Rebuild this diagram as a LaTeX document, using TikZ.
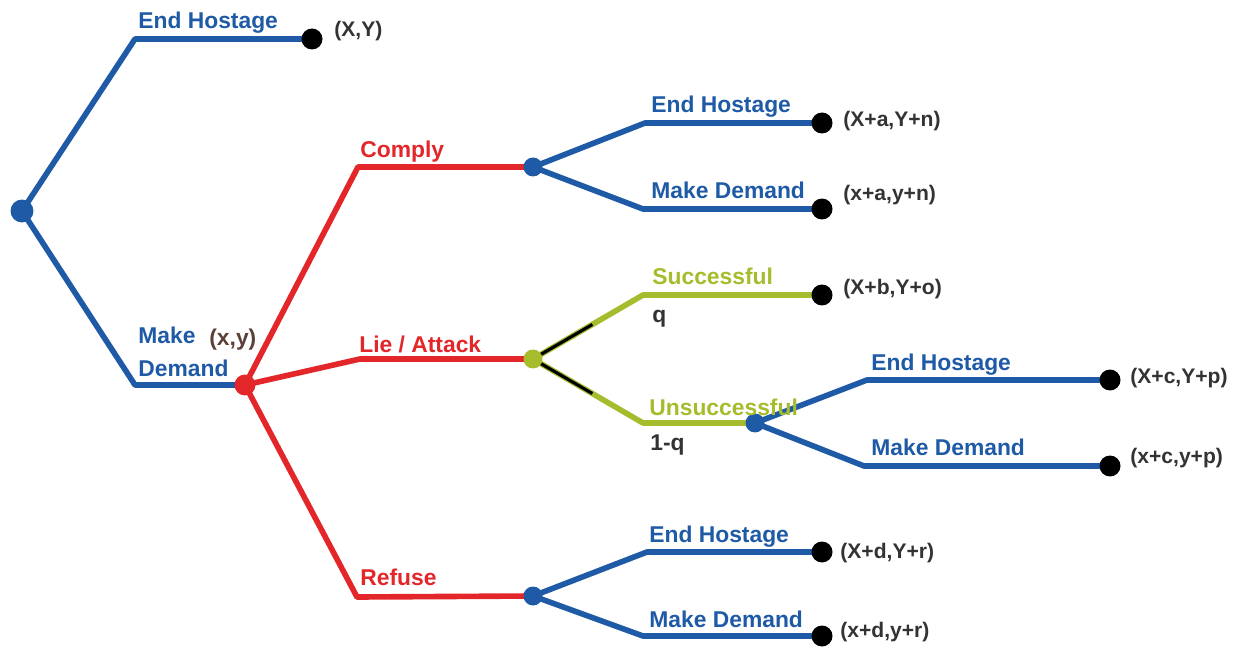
\documentclass[tikz,border=0pt]{standalone}
\usepackage{fontspec}
\setmainfont{Liberation Sans}
\usetikzlibrary{backgrounds,calc}
\definecolor{tblue}{HTML}{1E5AA5}
\definecolor{tred}{HTML}{E3262A}
\definecolor{tgreen}{HTML}{A6BC2C}
\definecolor{tgray}{HTML}{333333}
\definecolor{tbrown}{HTML}{5B4038}
\begin{document}
\begin{tikzpicture}[x=0.02cm,y=-0.02cm,
  br/.style={line width=3.2pt, line join=round},
  bl/.style={br, draw=tblue},
  rd/.style={br, draw=tred},
  gr/.style={br, draw=tgreen},
  blk/.style={line width=1.8pt, draw=black},
  dot/.style={circle, inner sep=0pt, minimum size=0.42cm},
  enddot/.style={dot, fill=black},
  lab/.style={anchor=base west, inner sep=0pt, font=\fontsize{13}{15}\selectfont\bfseries},
  pay/.style={lab, text=tgray, font=\fontsize{12}{14}\selectfont\bfseries},
]
\useasboundingbox (0,0) rectangle (1233,648);
% decision / chance nodes
\node[dot, fill=tblue, minimum size=0.46cm] (root) at (22,211) {};
\node[dot, fill=tred] (md) at (245,385) {};
\node[dot, fill=tblue, minimum size=0.38cm] (cn) at (533,167) {};
\node[dot, fill=tgreen, minimum size=0.38cm] (ch) at (533,359) {};
\node[dot, fill=tblue, minimum size=0.38cm] (rn) at (533,596) {};
\node[dot, fill=tblue, minimum size=0.38cm] (un) at (755,423) {};
% terminal nodes
\node[enddot] (e1) at (312,39) {};
\node[enddot] (e2) at (822,123) {};
\node[enddot] (e3) at (822,209) {};
\node[enddot] (e4) at (822,295) {};
\node[enddot] (e5) at (1110,380) {};
\node[enddot] (e6) at (1110,466) {};
\node[enddot] (e7) at (822,552) {};
\node[enddot] (e8) at (822,636) {};
% corners
\coordinate (c1) at (135,39);
\coordinate (c2) at (135,385);
\coordinate (c3) at (358,167);
\coordinate (c4) at (360,359);
\coordinate (c5) at (357,597);
\coordinate (c6) at (645,123);
\coordinate (c7) at (643,209);
\coordinate (c8) at (643,295);
\coordinate (c9) at (643,423);
\coordinate (c10) at (867,380);
\coordinate (c11) at (864,466);
\coordinate (c12) at (647,552);
\coordinate (c13) at (643,636);
\begin{pgfonlayer}{background}
\draw[bl] (root.center) -- (c1) -- (e1.center);
\draw[bl] (root.center) -- (c2) -- (md.center);
\draw[rd] (md.center) -- (c3) -- (cn.center);
\draw[rd] (md.center) -- (c4) -- (ch.center);
\draw[rd] (md.center) -- (c5) -- (rn.center);
\draw[bl] (cn.center) -- (c6) -- (e2.center);
\draw[bl] (cn.center) -- (c7) -- (e3.center);
\draw[gr] (ch.center) -- (c8) -- (e4.center);
\draw[gr] (ch.center) -- (c9) -- (un.center);
\draw[blk] (ch.center) -- ($(ch.center)!0.54!(c8)$);
\draw[blk] (ch.center) -- ($(ch.center)!0.54!(c9)$);
\draw[bl] (un.center) -- (c10) -- (e5.center);
\draw[bl] (un.center) -- (c11) -- (e6.center);
\draw[bl] (rn.center) -- (c12) -- (e7.center);
\draw[bl] (rn.center) -- (c13) -- (e8.center);
\end{pgfonlayer}
% labels
\node[lab, text=tblue] (l1) at (138,29) {End Hostage};
\node[pay] (p1) at (334,37) {(X,Y)};
\node[lab, text=tblue] (l2a) at (138,343) {Make};
\node[lab, text=tblue] (l2b) at (138,376) {Demand};
\node[lab, text=tbrown] (pxy) at (209,345) {(x,y)};
\node[lab, text=tred] (l3) at (360,158) {Comply};
\node[lab, text=tred] (l4) at (359,353) {Lie / Attack};
\node[lab, text=tred] (l5) at (360,585) {Refuse};
\node[lab, text=tblue] (l6) at (651,113) {End Hostage};
\node[pay] (p2) at (843,127) {(X+a,Y+n)};
\node[lab, text=tblue] (l7) at (651,199) {Make Demand};
\node[pay] (p3) at (843,201) {(x+a,y+n)};
\node[lab, text=tgreen] (l8) at (652,285) {Successful};
\node[lab, text=tgray] (q1) at (652,322) {q};
\node[pay] (p4) at (843,295) {(X+b,Y+o)};
\node[lab, text=tgreen] (l9) at (649,415) {Unsuccessful};
\node[lab, text=tgray] (q2) at (650,450) {1-q};
\node[lab, text=tblue] (l10) at (871,370) {End Hostage};
\node[pay] (p5) at (1130,383) {(X+c,Y+p)};
\node[lab, text=tblue] (l11) at (871,455) {Make Demand};
\node[pay] (p6) at (1130,463) {(x+c,y+p)};
\node[lab, text=tblue] (l12) at (649,542) {End Hostage};
\node[pay] (p7) at (840,558) {(X+d,Y+r)};
\node[lab, text=tblue] (l13) at (649,627) {Make Demand};
\node[pay] (p8) at (840,637) {(x+d,y+r)};
\end{tikzpicture}
\end{document}
